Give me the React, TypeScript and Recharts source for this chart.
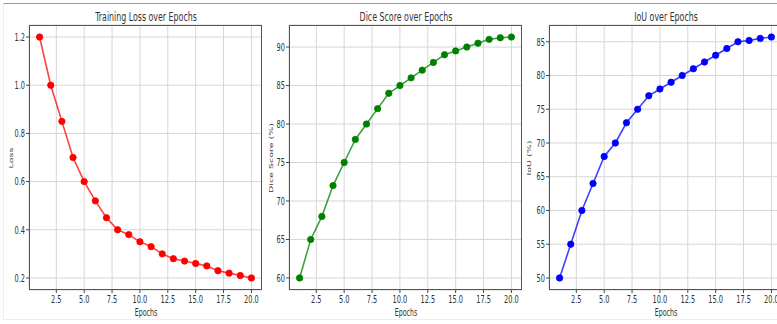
import * as React from 'react'
import { CartesianGrid, Line, LineChart, XAxis, YAxis } from 'recharts'

const epochs = [1, 2, 3, 4, 5, 6, 7, 8, 9, 10, 11, 12, 13, 14, 15, 16, 17, 18, 19, 20]
const lossValues = [1.2, 1.0, 0.85, 0.7, 0.6, 0.52, 0.45, 0.4, 0.38, 0.35, 0.33, 0.3, 0.28, 0.27, 0.26, 0.25, 0.23, 0.22, 0.21, 0.2]
const diceValues = [60, 65, 68, 72, 75, 78, 80, 82, 84, 85, 86, 87, 88, 89, 89.5, 90, 90.5, 91, 91.2, 91.3]
const iouValues = [50, 55, 60, 64, 68, 70, 73, 75, 77, 78, 79, 80, 81, 82, 83, 84, 85, 85.2, 85.5, 85.7]

const epochTicks = [2.5, 5, 7.5, 10, 12.5, 15, 17.5, 20]
const lossTicks = [0.2, 0.4, 0.6, 0.8, 1.0, 1.2]
const diceTicks = [60, 65, 70, 75, 80, 85, 90]
const iouTicks = [50, 55, 60, 65, 70, 75, 80, 85]

// the reference is squeezed sideways, so glyphs get narrowed
const SQUEEZE = 0.63
const FONT = '"DejaVu Sans", sans-serif'
const TEXT = '#333'

const CHART_W = 262
const CHART_H = 324
const Y_W = 29
const TOP = 25
const X_H = 34

type Panel = {
  left: number
  labelX: number
  title: string
  yLabel: string
  values: number[]
  ticks: number[]
  domain: [number, number]
  color: string
  fmt: (v: number) => string
}

// matplotlib-style 5% padding
function padded(values: number[]): [number, number] {
  const lo = Math.min(...values)
  const hi = Math.max(...values)
  const pad = (hi - lo) * 0.05
  return [lo - pad, hi + pad]
}

const panels: Panel[] = [
  {
    left: 0,
    labelX: 10.5,
    title: 'Training Loss over Epochs',
    yLabel: 'Loss',
    values: lossValues,
    ticks: lossTicks,
    domain: padded(lossValues),
    color: '#ff0000',
    fmt: (v) => v.toFixed(1),
  },
  {
    left: 260,
    labelX: 11,
    title: 'Dice Score over Epochs',
    yLabel: 'Dice Score (%)',
    values: diceValues,
    ticks: diceTicks,
    domain: padded(diceValues),
    color: '#008000',
    fmt: (v) => String(v),
  },
  {
    left: 520,
    labelX: 9,
    title: 'IoU over Epochs',
    yLabel: 'IoU (%)',
    values: iouValues,
    ticks: iouTicks,
    domain: padded(iouValues),
    color: '#0000ff',
    fmt: (v) => String(v),
  },
]

function XTick(props: any) {
  const { x, y, payload } = props
  return (
    <g transform={`translate(${x},${y})`}>
      <text x={0} y={0} dy="0.71em" textAnchor="middle" fontSize={10.5} fontFamily={FONT} fill={TEXT} transform={`scale(${SQUEEZE},1)`}>
        {Number(payload.value).toFixed(1)}
      </text>
    </g>
  )
}

function makeYTick(fmt: (v: number) => string) {
  return function YTick(props: any) {
    const { x, y, payload } = props
    return (
      <g transform={`translate(${x},${y})`}>
        <text x={0} y={0} dy="0.355em" textAnchor="end" fontSize={10.5} fontFamily={FONT} fill={TEXT} transform={`scale(${SQUEEZE},1)`}>
          {fmt(Number(payload.value))}
        </text>
      </g>
    )
  }
}

function PanelChart({ panel }: { panel: Panel }) {
  const data = epochs.map((e, i) => ({ epoch: e, value: panel.values[i] }))
  const plotLeft = panel.left + Y_W
  const plotW = CHART_W - Y_W
  const plotH = CHART_H - TOP - X_H
  return (
    <>
      <div style={{ position: 'absolute', left: panel.left, top: 0 }}>
        <LineChart width={CHART_W} height={CHART_H} data={data} margin={{ top: TOP, right: 0, bottom: 0, left: 0 }}>
          <CartesianGrid stroke="#d6d6d6" strokeWidth={1} />
          <XAxis
            dataKey="epoch"
            type="number"
            domain={[0.05, 20.95]}
            ticks={epochTicks}
            height={X_H}
            axisLine={false}
            tickLine={{ stroke: '#444' }}
            tickSize={3}
            tickMargin={3}
            tick={<XTick />}
            interval={0}
            allowDecimals
          />
          <YAxis
            type="number"
            domain={panel.domain}
            ticks={panel.ticks}
            width={Y_W}
            axisLine={false}
            tickLine={{ stroke: '#444' }}
            tickSize={3}
            tickMargin={1}
            tick={makeYTick(panel.fmt)}
            interval={0}
            allowDataOverflow
          />
          <Line
            type="linear"
            dataKey="value"
            stroke={panel.color}
            strokeOpacity={0.75}
            strokeWidth={1.6}
            dot={{ r: 3.2, fill: panel.color, stroke: panel.color, strokeWidth: 1 }}
            isAnimationActive={false}
          />
        </LineChart>
      </div>
      {/* axes frame */}
      <div
        style={{
          position: 'absolute',
          left: plotLeft,
          top: TOP,
          width: plotW,
          height: plotH,
          boxSizing: 'border-box',
          border: '1px solid #555',
          pointerEvents: 'none',
        }}
      />
      <div
        style={{
          position: 'absolute',
          left: plotLeft + plotW / 2,
          top: 15.5,
          transform: `translate(-50%, -50%) scaleX(${SQUEEZE})`,
          whiteSpace: 'nowrap',
          fontFamily: FONT,
          fontSize: 12.5,
          color: TEXT,
        }}
      >
        {panel.title}
      </div>
      <div
        style={{
          position: 'absolute',
          left: plotLeft + plotW / 2,
          top: 313,
          transform: `translate(-50%, -50%) scaleX(${SQUEEZE})`,
          whiteSpace: 'nowrap',
          fontFamily: FONT,
          fontSize: 10,
          lineHeight: '12px',
          color: TEXT,
        }}
      >
        Epochs
      </div>
      <div
        style={{
          position: 'absolute',
          left: panel.left + panel.labelX,
          top: TOP + plotH / 2,
          transform: `translate(-50%, -50%) rotate(-90deg) scaleY(${SQUEEZE})`,
          whiteSpace: 'nowrap',
          fontFamily: FONT,
          fontSize: 9.5,
          lineHeight: '12px',
          color: TEXT,
        }}
      >
        {panel.yLabel}
      </div>
    </>
  )
}

export default function App() {
  return (
    <div
      style={{
        position: 'fixed',
        left: 0,
        top: 0,
        width: 777,
        height: 324,
        overflow: 'hidden',
        background: '#fff',
      }}
    >
      <div
        style={{
          position: 'absolute',
          left: 3,
          top: 3,
          width: 800,
          height: 317,
          boxSizing: 'border-box',
          borderTop: '1px solid #9a9a9a',
          borderLeft: '1px solid #eeeeee',
          borderBottom: '1px solid #eeeeee',
        }}
      />
      {panels.map((p) => (
        <PanelChart key={p.title} panel={p} />
      ))}
    </div>
  )
}
